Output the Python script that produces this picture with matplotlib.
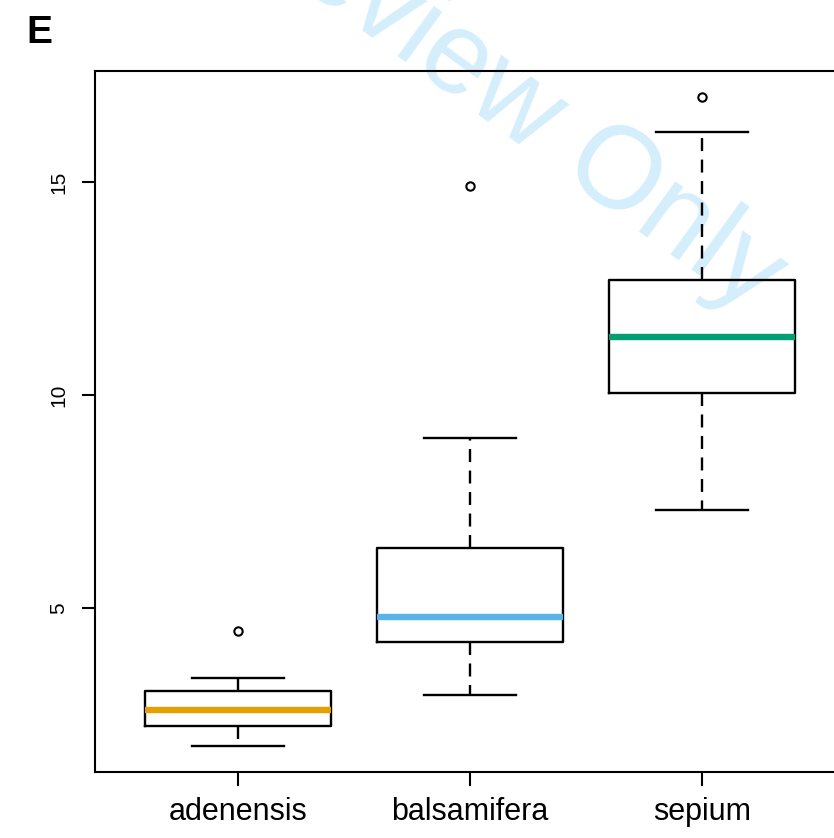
import matplotlib
matplotlib.use("Agg")
from matplotlib import pyplot as plt

plt.rcParams['font.family'] = ['Liberation Sans', 'DejaVu Sans']

# species and five-number summaries
species = ['adenensis', 'balsamifera', 'sepium']
whislo = [1.76, 2.96, 7.30]
q1 = [2.23, 4.20, 10.05]
med = [2.61, 4.79, 11.36]
q3 = [3.05, 6.41, 12.70]
whishi = [3.36, 8.99, 16.17]
outliers = [[4.46], [14.91], [17.00]]
median_colors = ['#E69F00', '#56B4E9', '#009E73']
y_ticks = [5, 10, 15]

stats = []
for i, name in enumerate(species):
    stats.append(dict(label=name, whislo=whislo[i], q1=q1[i], med=med[i],
                      q3=q3[i], whishi=whishi[i], fliers=outliers[i]))

fig = plt.figure(figsize=(8.34, 8.38), dpi=100)

# watermark sits behind the plot
fig.text(0.506, 0.957, 'For Review Only', fontsize=84, color='#d4eefb',
         rotation=-36, ha='center', va='center', rotation_mode='anchor',
         zorder=-1)

ax = fig.add_axes([95 / 834, 66 / 838, (845 - 95) / 834, 701 / 838])
ax.patch.set_facecolor('none')

bp = ax.bxp(stats, positions=[1, 2, 3], widths=0.8, capwidths=0.4,
            boxprops=dict(color='black', linewidth=1.7),
            whiskerprops=dict(color='black', linewidth=1.7, dashes=(5.5, 3.6)),
            capprops=dict(color='black', linewidth=1.7),
            medianprops=dict(linewidth=4.6, solid_capstyle='butt'),
            flierprops=dict(marker='o', markersize=6, markerfacecolor='none',
                            markeredgecolor='black', markeredgewidth=1.5))
for line, c in zip(bp['medians'], median_colors):
    line.set_color(c)

ax.set_xlim(0.384, 3.616)
ax.set_ylim(1.15, 17.61)
ax.set_yticks(y_ticks)
ax.set_yticklabels([str(t) for t in y_ticks], rotation=90, va='center')
ax.set_xticks([1, 2, 3])
ax.set_xticklabels(species)

for s in ax.spines.values():
    s.set_linewidth(1.5)
ax.tick_params(axis='y', length=9.5, width=1.5, pad=10, labelsize=15)
ax.tick_params(axis='x', length=10, width=1.5, pad=8, labelsize=22)

fig.text(39 / 834, 1 - 33 / 838, 'E', fontsize=28, fontweight='bold',
         ha='center', va='center')

fig.savefig('out.png', dpi=100)
